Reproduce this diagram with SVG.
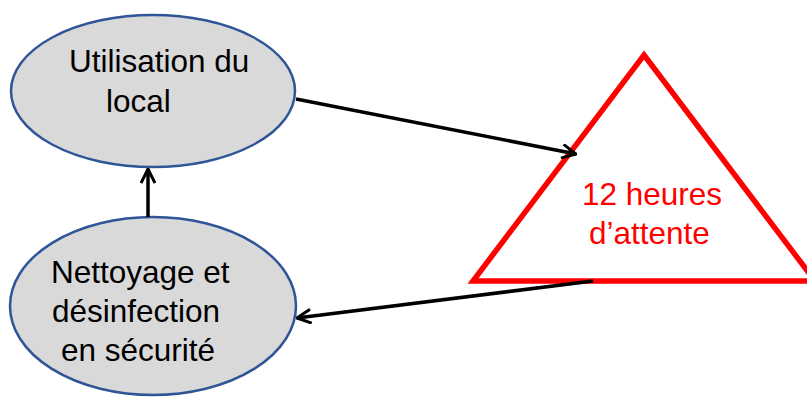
<svg xmlns="http://www.w3.org/2000/svg" width="807" height="397" viewBox="0 0 807 397">
<style>
.node{fill:#d9d9d9;stroke:#2f5597;stroke-width:2.5}
.lbl{font-family:"Liberation Sans",Arial,sans-serif;font-size:31.5px;fill:#000}
.red{fill:#ff0000}
.conn{stroke:#000;stroke-width:3.5;fill:none}
</style>
<defs>
<marker id="arr" viewBox="0 0 16 16" refX="15" refY="8" markerWidth="16" markerHeight="16" markerUnits="userSpaceOnUse" orient="auto">
<path d="M1,1 L15,8 L1,15" fill="none" stroke="#000" stroke-width="3"/>
</marker>
</defs>
<rect width="807" height="397" fill="#fff"/>
<g id="n-utilisation">
<ellipse class="node" cx="153" cy="91" rx="142" ry="76"/>
<text class="lbl" x="69" y="72">Utilisation du</text>
<text class="lbl" x="106" y="112">local</text>
</g>
<g id="n-nettoyage">
<ellipse class="node" cx="153" cy="306" rx="143" ry="89"/>
<text class="lbl" x="51" y="283">Nettoyage et</text>
<text class="lbl" x="52" y="322">désinfection</text>
<text class="lbl" x="61" y="361">en sécurité</text>
</g>
<g id="n-attente">
<polygon points="644,55 815,281 473,281" fill="#fff" stroke="#ff0000" stroke-width="5.5"/>
<text class="lbl red" x="582" y="205">12 heures</text>
<text class="lbl red" x="589" y="244">d’attente</text>
</g>
<g id="connectors">
<line class="conn" x1="296" y1="99" x2="576" y2="154" marker-end="url(#arr)"/>
<line class="conn" x1="593" y1="281" x2="297" y2="318" marker-end="url(#arr)"/>
<line class="conn" x1="148" y1="217" x2="148" y2="169" marker-end="url(#arr)"/>
</g>
</svg>
